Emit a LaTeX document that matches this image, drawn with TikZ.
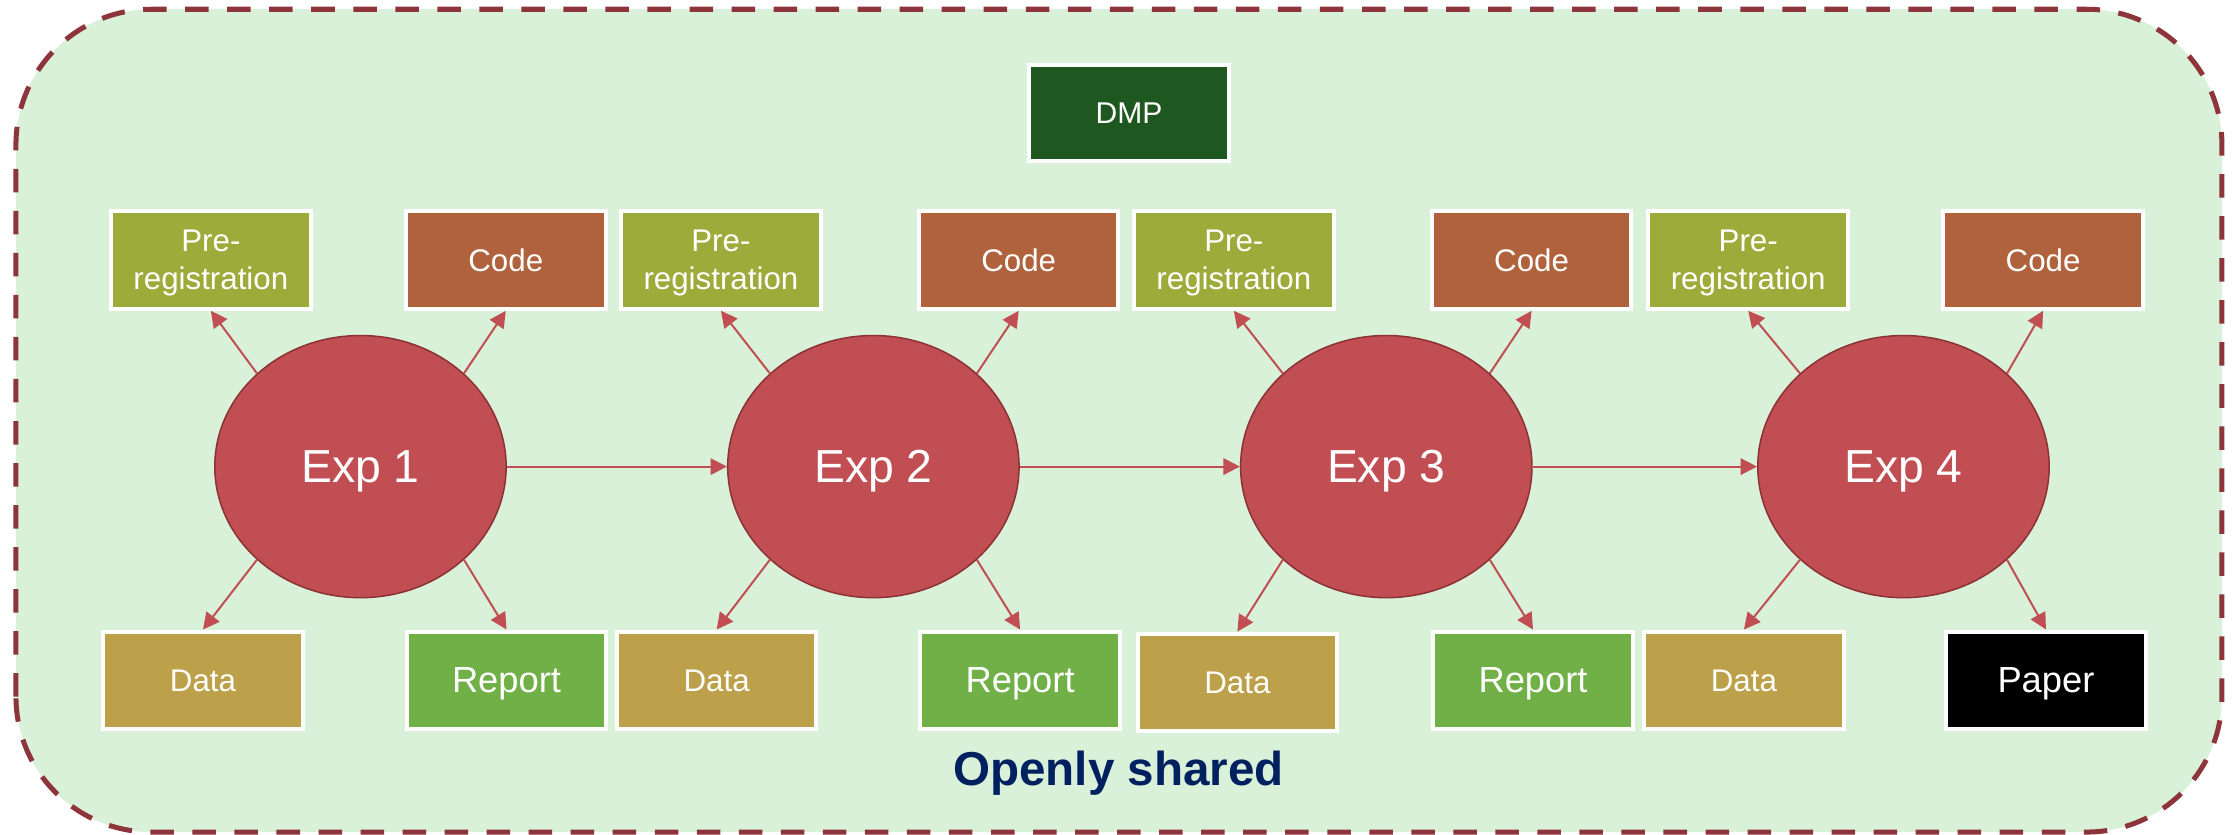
\documentclass[tikz,border=0pt]{standalone}
\usepackage{fontspec}
\setmainfont{Liberation Sans}
\usetikzlibrary{arrows.meta,shapes.geometric}
\definecolor{osbg}{RGB}{216,241,216}
\definecolor{osframe}{RGB}{142,53,59}
\definecolor{osred}{RGB}{193,78,82}
\definecolor{osredline}{RGB}{140,50,52}
\definecolor{osolive}{RGB}{155,172,58}
\definecolor{oscode}{RGB}{176,98,60}
\definecolor{osdata}{RGB}{188,160,74}
\definecolor{osreport}{RGB}{112,176,70}
\definecolor{osdmp}{RGB}{30,87,32}
\definecolor{osnavy}{RGB}{0,32,96}

\begin{document}
\begin{tikzpicture}[
  box/.style={draw=white,line width=1.6pt,text=white,minimum width=2.8cm,
    minimum height=1.37cm,inner sep=0pt,align=center,text depth=0pt,
    font=\fontsize{12.5}{15.2}\selectfont},
  big/.style={font=\fontsize{14.5}{17}\selectfont},
  exp/.style={ellipse,draw=osredline,line width=0.6pt,fill=osred,text=white,
    minimum width=4.09cm,minimum height=3.68cm,inner sep=0pt,text depth=0pt,
    font=\fontsize{18.5}{22}\selectfont},
  arr/.style={osred,line width=0.8pt,-{Triangle[length=0.23cm,width=0.23cm]}}
]
  \useasboundingbox (0,0) rectangle (31.36,11.72);
  % frame
  \draw[osframe,fill=osbg,line width=2pt,rounded corners=1.9cm,
    dash pattern=on 0.33cm off 0.26cm] (0.224,0.04) rectangle (31.19,11.59);
  % experiments
  \node[exp] (E1) at (5.06,5.17) {Exp 1};
  \node[exp] (E2) at (12.26,5.17) {Exp 2};
  \node[exp] (E3) at (19.46,5.17) {Exp 3};
  \node[exp] (E4) at (26.72,5.17) {Exp 4};
  % top row
  \node[box,fill=osdmp,font=\fontsize{12}{14}\selectfont,minimum height=1.35cm] (dmp) at (15.85,10.13) {DMP};
  \node[box,fill=osolive] (P1) at (2.96,8.07) {Pre-\\registration};
  \node[box,fill=oscode] (C1) at (7.10,8.07) {Code};
  \node[box,fill=osolive] (P2) at (10.12,8.07) {Pre-\\registration};
  \node[box,fill=oscode] (C2) at (14.30,8.07) {Code};
  \node[box,fill=osolive] (P3) at (17.32,8.07) {Pre-\\registration};
  \node[box,fill=oscode] (C3) at (21.50,8.07) {Code};
  \node[box,fill=osolive] (P4) at (24.54,8.07) {Pre-\\registration};
  \node[box,fill=oscode] (C4) at (28.68,8.07) {Code};
  % bottom row
  \node[box,fill=osdata] (D1) at (2.85,2.17) {Data};
  \node[box,big,fill=osreport] (R1) at (7.11,2.17) {Report};
  \node[box,fill=osdata] (D2) at (10.06,2.17) {Data};
  \node[box,big,fill=osreport] (R2) at (14.32,2.17) {Report};
  \node[box,fill=osdata] (D3) at (17.37,2.14) {Data};
  \node[box,big,fill=osreport] (R3) at (21.52,2.17) {Report};
  \node[box,fill=osdata] (D4) at (24.48,2.17) {Data};
  \node[box,big,fill=black] (pap) at (28.72,2.17) {Paper};
  \node[text=osnavy,anchor=base,font=\bfseries\fontsize{19}{23}\selectfont] (lbl) at (15.7,0.70) {Openly shared};
  % arrows
  \draw[arr] (E1) -- (E2);
  \draw[arr] (E2) -- (E3);
  \draw[arr] (E3) -- (E4);
  \draw[arr] (E1.138) -- (P1.south);
  \draw[arr] (E1.42) -- (C1.south);
  \draw[arr] (E1.222) -- (D1.north);
  \draw[arr] (E1.318) -- (R1.north);
  \draw[arr] (E2.138) -- (P2.south);
  \draw[arr] (E2.42) -- (C2.south);
  \draw[arr] (E2.222) -- (D2.north);
  \draw[arr] (E2.318) -- (R2.north);
  \draw[arr] (E3.138) -- (P3.south);
  \draw[arr] (E3.42) -- (C3.south);
  \draw[arr] (E3.222) -- (D3.north);
  \draw[arr] (E3.318) -- (R3.north);
  \draw[arr] (E4.138) -- (P4.south);
  \draw[arr] (E4.42) -- (C4.south);
  \draw[arr] (E4.222) -- (D4.north);
  \draw[arr] (E4.318) -- (pap.north);
\end{tikzpicture}
\end{document}
